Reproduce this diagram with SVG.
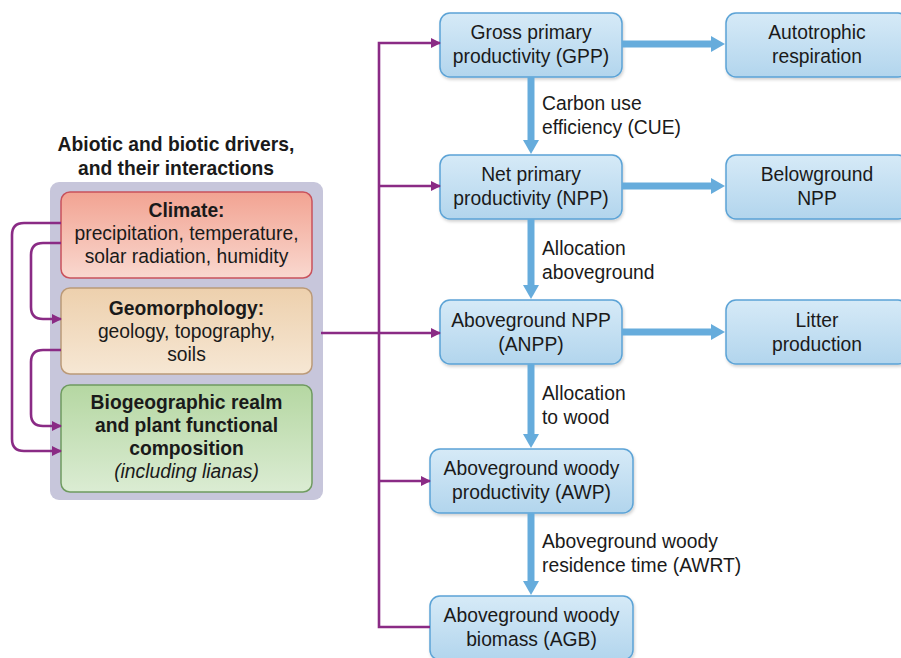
<svg xmlns="http://www.w3.org/2000/svg" width="901" height="658" viewBox="0 0 901 658">
<defs>
<linearGradient id="gBlue" x1="0" y1="0" x2="0" y2="1"><stop offset="0" stop-color="#d6eaf7"/><stop offset="1" stop-color="#b2d5ed"/></linearGradient>
<linearGradient id="gRed" x1="0" y1="0" x2="0" y2="1"><stop offset="0" stop-color="#f2a392"/><stop offset="1" stop-color="#f9d8cf"/></linearGradient>
<linearGradient id="gTan" x1="0" y1="0" x2="0" y2="1"><stop offset="0" stop-color="#edd0ad"/><stop offset="1" stop-color="#f6e7d4"/></linearGradient>
<linearGradient id="gGreen" x1="0" y1="0" x2="0" y2="1"><stop offset="0" stop-color="#b5d7a2"/><stop offset="1" stop-color="#dbecd3"/></linearGradient>
<filter id="sh" x="-10%" y="-10%" width="130%" height="140%"><feDropShadow dx="1" dy="2" stdDeviation="1.5" flood-color="#000" flood-opacity="0.18"/></filter>
<marker id="mp" viewBox="0 0 10 10" refX="9" refY="5" markerUnits="userSpaceOnUse" markerWidth="10" markerHeight="10" orient="auto"><path d="M0,0 L10,5 L0,10 z" fill="#8a2b85"/></marker>
<marker id="mb" viewBox="0 0 14 16" refX="1" refY="8" markerUnits="userSpaceOnUse" markerWidth="14" markerHeight="16" orient="auto"><path d="M0,0 L14,8 L0,16 z" fill="#66acdc"/></marker>
</defs>
<style>
text{font-family:"Liberation Sans",Arial,sans-serif;font-size:19.3px;fill:#1a1a1a;text-anchor:middle}
.b{font-weight:bold}
.i{font-style:italic}
.l{text-anchor:start}
.box{fill:url(#gBlue);stroke:#5ba3d6;stroke-width:1.5;filter:url(#sh)}
.p{fill:none;stroke:#8a2b85;stroke-width:2.6}
.bl{fill:none;stroke:#66acdc;stroke-width:7}
</style>
<rect width="901" height="658" fill="#ffffff"/>

<g id="title">
<text class="b" x="176" y="151">Abiotic and biotic drivers,</text>
<text class="b" x="176" y="175">and their interactions</text>
</g>
<g id="drivers-panel">
<rect x="50" y="182" width="273" height="318" rx="9" fill="#c7c6db"/>
</g>
<g id="climate">
<rect x="61" y="192" width="251" height="86" rx="9" fill="url(#gRed)" stroke="#c9525c" stroke-width="1.5"/>
<text class="b" x="186.5" y="217">Climate:</text>
<text x="186.5" y="240">precipitation, temperature,</text>
<text x="186.5" y="263">solar radiation, humidity</text>
</g>
<g id="geomorphology">
<rect x="61" y="288" width="251" height="86" rx="9" fill="url(#gTan)" stroke="#bb9a78" stroke-width="1.5"/>
<text class="b" x="186.5" y="315">Geomorphology:</text>
<text x="186.5" y="338">geology, topography,</text>
<text x="186.5" y="361">soils</text>
</g>
<g id="biogeographic">
<rect x="61" y="385" width="251" height="107" rx="9" fill="url(#gGreen)" stroke="#6f9b60" stroke-width="1.5"/>
<text class="b" x="186.5" y="409">Biogeographic realm</text>
<text class="b" x="186.5" y="432">and plant functional</text>
<text class="b" x="186.5" y="455">composition</text>
<text class="i" x="186.5" y="478">(including lianas)</text>
</g>

<g id="gpp"><rect class="box" x="440" y="13" width="182" height="64" rx="10"/>
<text x="531" y="39">Gross primary</text><text x="531" y="63">productivity (GPP)</text></g>
<g id="npp"><rect class="box" x="440" y="155" width="182" height="64" rx="10"/>
<text x="531" y="181">Net primary</text><text x="531" y="205">productivity (NPP)</text></g>
<g id="anpp"><rect class="box" x="440" y="300" width="182" height="64" rx="10"/>
<text x="531" y="327">Aboveground NPP</text><text x="531" y="351">(ANPP)</text></g>
<g id="awp"><rect class="box" x="430" y="449" width="203" height="64" rx="10"/>
<text x="531.5" y="475">Aboveground woody</text><text x="531.5" y="499">productivity (AWP)</text></g>
<g id="agb"><rect class="box" x="430" y="596" width="203" height="64" rx="10"/>
<text x="531.5" y="622">Aboveground woody</text><text x="531.5" y="646">biomass (AGB)</text></g>
<g id="autotrophic"><rect class="box" x="726" y="13" width="182" height="64" rx="10"/>
<text x="817" y="39">Autotrophic</text><text x="817" y="63">respiration</text></g>
<g id="belowground"><rect class="box" x="726" y="155" width="182" height="64" rx="10"/>
<text x="817" y="181">Belowground</text><text x="817" y="205">NPP</text></g>
<g id="litter"><rect class="box" x="726" y="300" width="182" height="64" rx="10"/>
<text x="817" y="327">Litter</text><text x="817" y="351">production</text></g>

<g id="connectors">
<path class="p" d="M61,223 H24 Q12,223 12,235 V439 Q12,451 24,451 H61" marker-end="url(#mp)"/>
<path class="p" d="M61,243 H43 Q31,243 31,255 V307 Q31,319 43,319 H61" marker-end="url(#mp)"/>
<path class="p" d="M61,350 H43 Q31,350 31,362 V414 Q31,426 43,426 H61" marker-end="url(#mp)"/>
<path class="p" d="M321,333 H440" marker-end="url(#mp)"/>
<path class="p" d="M430,627 H379 V43 H440" marker-end="url(#mp)"/>
<path class="p" d="M379,186 H440" marker-end="url(#mp)"/>
<path class="p" d="M379,481 H430" marker-end="url(#mp)"/>

<path class="bl" d="M622,44 H712" marker-end="url(#mb)"/>
<path class="bl" d="M622,186 H712" marker-end="url(#mb)"/>
<path class="bl" d="M622,332 H712" marker-end="url(#mb)"/>
<path class="bl" d="M531,77 V141" marker-end="url(#mb)"/>
<path class="bl" d="M531,219 V286" marker-end="url(#mb)"/>
<path class="bl" d="M531,364 V435" marker-end="url(#mb)"/>
<path class="bl" d="M531,513 V582" marker-end="url(#mb)"/>

<text class="l" x="542" y="110">Carbon use</text>
<text class="l" x="542" y="134">efficiency (CUE)</text>
<text class="l" x="542" y="255">Allocation</text>
<text class="l" x="542" y="279">aboveground</text>
<text class="l" x="542" y="400">Allocation</text>
<text class="l" x="542" y="424">to wood</text>
<text class="l" x="542" y="548">Aboveground woody</text>
<text class="l" x="542" y="572">residence time (AWRT)</text>
</g>
</svg>
